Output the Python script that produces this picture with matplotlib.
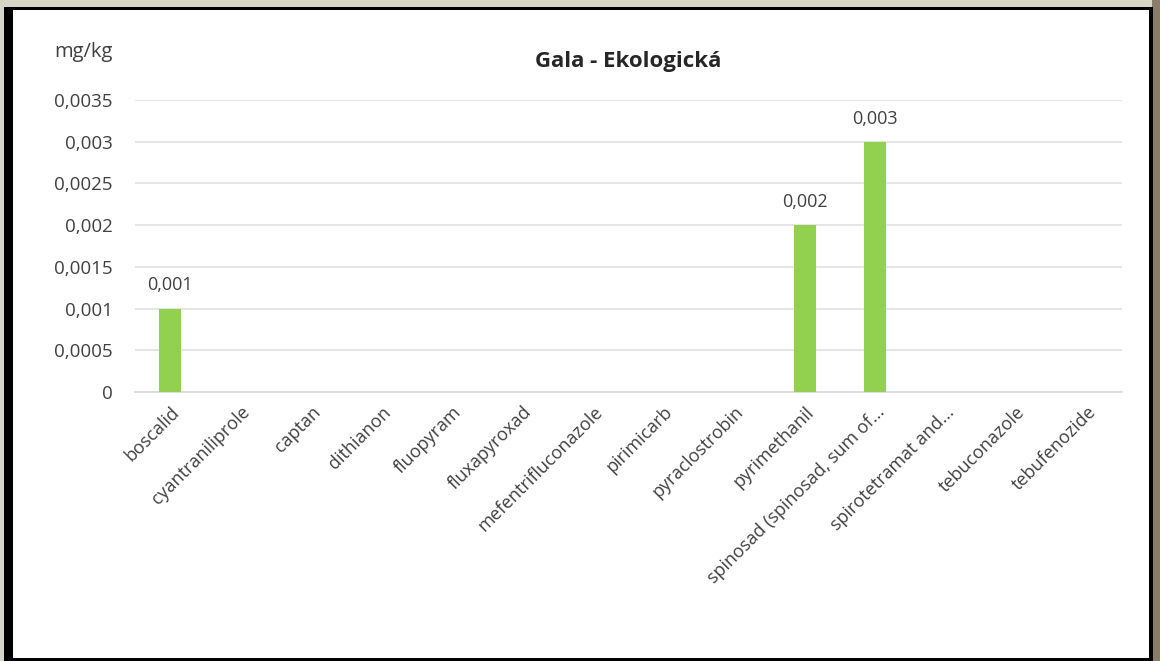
import numpy as np
import matplotlib
matplotlib.use('Agg')
from matplotlib import pyplot as plt
from matplotlib.patches import Rectangle
from matplotlib.ticker import FuncFormatter, MultipleLocator

# Data
categories = ['boscalid', 'cyantraniliprole', 'captan', 'dithianon', 'fluopyram',
              'fluxapyroxad', 'mefentrifluconazole', 'pirimicarb', 'pyraclostrobin',
              'pyrimethanil', 'spinosad (spinosad, sum of...', 'spirotetramat and...',
              'tebuconazole', 'tebufenozide']
values = [0.001, 0, 0, 0, 0, 0, 0, 0, 0, 0.002, 0.003, 0, 0, 0]
title = 'Gala - Ekologická'
unit_label = 'mg/kg'

plt.rcParams['font.family'] = ['Open Sans', 'DejaVu Sans']
W, H = 1160, 661
fig = plt.figure(figsize=(W / 100, H / 100), dpi=100)
fig.patch.set_facecolor('#d6d5c6')

def px(x0, y0, x1, y1, **kw):
    # rectangle in pixel coords (top-left origin), drawn behind the axes
    fig.add_artist(Rectangle((x0 / W, 1 - y1 / H), (x1 - x0) / W, (y1 - y0) / H,
                             transform=fig.transFigure, zorder=-5, **kw))

# the framed white panel
px(1152, 0, W, H, facecolor='#8c7c6a', edgecolor='none')
px(4, 7, 1153, H, facecolor='black', edgecolor='none')
px(13, 10, 1149, 658, facecolor='white', edgecolor='none')

ax = fig.add_axes([135 / W, 1 - 392 / H, (1122 - 135) / W, (392 - 100) / H])
ax.set_facecolor('none')

x = np.arange(len(categories))
ax.bar(x, values, width=0.31, color='#92d050', zorder=3)
for xi, v in zip(x, values):
    if v > 0:
        ax.text(xi, v + 0.00017, ('%g' % v).replace('.', ','), ha='center', va='bottom',
                fontsize=13, color='#404040')

ax.set_xlim(-0.5, len(categories) - 0.5)
ax.set_ylim(0, 0.0035)
ax.yaxis.set_major_locator(MultipleLocator(0.0005))
ax.yaxis.set_major_formatter(FuncFormatter(lambda v, p: ('%g' % round(v, 6)).replace('.', ',')))
ax.grid(axis='y', color='#e0e0e0', linewidth=1.2, zorder=0)
for s in ['top', 'right', 'left']:
    ax.spines[s].set_visible(False)
ax.spines['bottom'].set_color('#d9d9d9')
ax.spines['bottom'].set_linewidth(1.2)
ax.tick_params(axis='both', length=0, colors='#404040', labelsize=13.5)
ax.tick_params(axis='y', pad=16)
ax.set_xticks(x)
ax.set_xticklabels(categories, rotation=45, ha='right', va='top', rotation_mode='anchor',
                   fontsize=13)
ax.tick_params(axis='x', pad=8)

fig.text(113 / W, 1 - 52 / H, unit_label, ha='right', va='center', fontsize=14.5, color='#404040')
fig.text(628 / W, 1 - 62 / H, title, ha='center', va='center', fontsize=16,
         fontweight='bold', color='#262626')

fig.savefig('out.png', dpi=100)
